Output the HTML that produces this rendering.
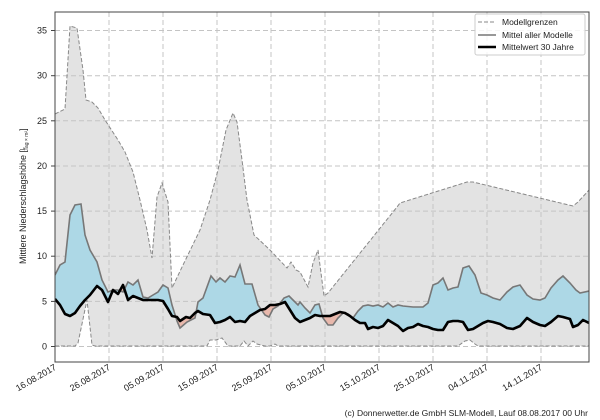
<!DOCTYPE html>
<html><head><meta charset="utf-8"><style>
body{margin:0;background:#fff;}
svg{display:block;font-family:"Liberation Sans","DejaVu Sans",sans-serif;}
</style></head><body>
<svg width="600" height="420" viewBox="0 0 600 420" xmlns="http://www.w3.org/2000/svg">
<defs>
<clipPath id="plot"><rect x="55" y="12" width="534" height="350"/></clipPath>
<clipPath id="above"><polygon points="55,0 589,0 589,323 583,320 578,325 573,327 570,319 563,317 558,316 551,322 545,326 540,325 533,322 527,318 520,326 513,329 507,328 500,324 493,322 488,321 483,323 478,326 473,329 468,330 463,322 458,321 453,321 448,322 443,330 438,330 433,329 428,327 423,326 418,324 413,327 408,328 403,331 398,326 393,323 388,320 383,326 378,328 373,327 368,329 365,323 360,323 355,320 350,316 345,313 340,312 335,314 330,316 325,316 320,316 315,315 310,318 305,320 300,322 295,318 290,310 285,302 280,304 275,305 270,305 265,309 260,310 255,313 250,316 245,322 240,321 235,322 230,317 225,320 220,322 215,323 210,315 203,314 198,311 195,313 190,318 186,317 180,321 177,317 172,316 168,309 163,301 158,300 153,300 148,300 143,300 138,298 133,296 128,300 123,285 118,294 113,290 108,302 102,290 97,286 90,295 85,300 80,306 75,313 70,316 65,314 60,305 55,299"/></clipPath>
<clipPath id="below"><polygon points="55,420 589,420 589,323 583,320 578,325 573,327 570,319 563,317 558,316 551,322 545,326 540,325 533,322 527,318 520,326 513,329 507,328 500,324 493,322 488,321 483,323 478,326 473,329 468,330 463,322 458,321 453,321 448,322 443,330 438,330 433,329 428,327 423,326 418,324 413,327 408,328 403,331 398,326 393,323 388,320 383,326 378,328 373,327 368,329 365,323 360,323 355,320 350,316 345,313 340,312 335,314 330,316 325,316 320,316 315,315 310,318 305,320 300,322 295,318 290,310 285,302 280,304 275,305 270,305 265,309 260,310 255,313 250,316 245,322 240,321 235,322 230,317 225,320 220,322 215,323 210,315 203,314 198,311 195,313 190,318 186,317 180,321 177,317 172,316 168,309 163,301 158,300 153,300 148,300 143,300 138,298 133,296 128,300 123,285 118,294 113,290 108,302 102,290 97,286 90,295 85,300 80,306 75,313 70,316 65,314 60,305 55,299"/></clipPath>
</defs>
<g clip-path="url(#plot)">
<polygon fill="#e3e3e3" points="55,114 65,109 70,26 77,28 83,70 86,100 92,102 98,108 105,120 118,140 125,152 133,172 140,200 147,230 152,258 157,197 162,183 168,202 172,288 183,265 200,230 210,200 218,170 226,130 233,113 237,122 242,160 247,200 254,235 270,250 287,268 291,262 296,270 300,272 308,287 313,263 318,250 324,296 328,293 397,207 400,203 467,182 473,182 573,206 578,202 589,190 589,346 478,346 475,344 470,340 465,341 458,346 278,346 275,344 270,346 265,346 257,344 253,341 248,346 244,341 240,346 228,346 222,338 216,340 210,340 207,346 95,346 92,345 87,300 78,343 75,346 55,346"/>
<g stroke="#c4c4c4" stroke-width="1" stroke-dasharray="5,3" fill="none">
<line x1="55" x2="589" y1="346.5" y2="346.5"/><line x1="55" x2="589" y1="301.4" y2="301.4"/><line x1="55" x2="589" y1="256.2" y2="256.2"/><line x1="55" x2="589" y1="211.1" y2="211.1"/><line x1="55" x2="589" y1="166" y2="166"/><line x1="55" x2="589" y1="120.8" y2="120.8"/><line x1="55" x2="589" y1="75.7" y2="75.7"/><line x1="55" x2="589" y1="30.5" y2="30.5"/>
<line y1="12" y2="362" x1="109" x2="109"/><line y1="12" y2="362" x1="163" x2="163"/><line y1="12" y2="362" x1="217" x2="217"/><line y1="12" y2="362" x1="271" x2="271"/><line y1="12" y2="362" x1="325" x2="325"/><line y1="12" y2="362" x1="379" x2="379"/><line y1="12" y2="362" x1="433" x2="433"/><line y1="12" y2="362" x1="487" x2="487"/><line y1="12" y2="362" x1="541" x2="541"/>
</g>
<polygon clip-path="url(#above)" fill="#add8e6" points="55,275 60,265 65,262 70,215 75,205 81,204 85,235 90,250 97,262 102,280 108,292 113,290 118,290 123,292 128,282 133,285 138,280 143,297 148,298 153,295 158,292 163,285 168,288 172,305 177,321 180,328 187,322 195,318 198,302 203,298 211,276 216,282 220,278 225,282 230,276 235,277 240,265 245,284 252,284 258,305 265,315 269,317 273,309 278,306 284,298 289,296 293,300 298,305 300,302 305,308 310,313 315,305 319,304 323,318 328,325 333,325 338,318 343,313 348,314 353,318 358,311 363,306 368,305 373,306 378,305 383,307 388,303 393,307 398,305 403,306 413,307 423,307 428,303 433,285 438,283 443,278 448,290 453,288 458,287 463,268 469,266 475,275 481,293 487,295 493,298 500,300 507,292 513,287 520,285 527,295 533,299 540,300 545,298 551,288 558,280 563,276 570,283 576,290 580,293 589,291 589,420 55,420"/>
<polygon clip-path="url(#below)" fill="#e8b8ac" points="55,275 60,265 65,262 70,215 75,205 81,204 85,235 90,250 97,262 102,280 108,292 113,290 118,290 123,292 128,282 133,285 138,280 143,297 148,298 153,295 158,292 163,285 168,288 172,305 177,321 180,328 187,322 195,318 198,302 203,298 211,276 216,282 220,278 225,282 230,276 235,277 240,265 245,284 252,284 258,305 265,315 269,317 273,309 278,306 284,298 289,296 293,300 298,305 300,302 305,308 310,313 315,305 319,304 323,318 328,325 333,325 338,318 343,313 348,314 353,318 358,311 363,306 368,305 373,306 378,305 383,307 388,303 393,307 398,305 403,306 413,307 423,307 428,303 433,285 438,283 443,278 448,290 453,288 458,287 463,268 469,266 475,275 481,293 487,295 493,298 500,300 507,292 513,287 520,285 527,295 533,299 540,300 545,298 551,288 558,280 563,276 570,283 576,290 580,293 589,291 589,0 55,0"/>
<g fill="none" stroke="#888" stroke-width="1" stroke-dasharray="4,2">
<polyline points="55,114 65,109 70,26 77,28 83,70 86,100 92,102 98,108 105,120 118,140 125,152 133,172 140,200 147,230 152,258 157,197 162,183 168,202 172,288 183,265 200,230 210,200 218,170 226,130 233,113 237,122 242,160 247,200 254,235 270,250 287,268 291,262 296,270 300,272 308,287 313,263 318,250 324,296 328,293 397,207 400,203 467,182 473,182 573,206 578,202 589,190"/>
<polyline points="55,346 75,346 78,343 87,300 92,345 95,346 207,346 210,340 216,340 222,338 228,346 240,346 244,341 248,346 253,341 257,344 265,346 270,346 275,344 278,346 458,346 465,341 470,340 475,344 478,346 589,346"/>
</g>
<polyline fill="none" stroke="#777" stroke-width="1.6" points="55,275 60,265 65,262 70,215 75,205 81,204 85,235 90,250 97,262 102,280 108,292 113,290 118,290 123,292 128,282 133,285 138,280 143,297 148,298 153,295 158,292 163,285 168,288 172,305 177,321 180,328 187,322 195,318 198,302 203,298 211,276 216,282 220,278 225,282 230,276 235,277 240,265 245,284 252,284 258,305 265,315 269,317 273,309 278,306 284,298 289,296 293,300 298,305 300,302 305,308 310,313 315,305 319,304 323,318 328,325 333,325 338,318 343,313 348,314 353,318 358,311 363,306 368,305 373,306 378,305 383,307 388,303 393,307 398,305 403,306 413,307 423,307 428,303 433,285 438,283 443,278 448,290 453,288 458,287 463,268 469,266 475,275 481,293 487,295 493,298 500,300 507,292 513,287 520,285 527,295 533,299 540,300 545,298 551,288 558,280 563,276 570,283 576,290 580,293 589,291"/>
<polyline fill="none" stroke="#000" stroke-width="2.6" stroke-linejoin="round" points="55,299 60,305 65,314 70,316 75,313 80,306 85,300 90,295 97,286 102,290 108,302 113,290 118,294 123,285 128,300 133,296 138,298 143,300 148,300 153,300 158,300 163,301 168,309 172,316 177,317 180,321 186,317 190,318 195,313 198,311 203,314 210,315 215,323 220,322 225,320 230,317 235,322 240,321 245,322 250,316 255,313 260,310 265,309 270,305 275,305 280,304 285,302 290,310 295,318 300,322 305,320 310,318 315,315 320,316 325,316 330,316 335,314 340,312 345,313 350,316 355,320 360,323 365,323 368,329 373,327 378,328 383,326 388,320 393,323 398,326 403,331 408,328 413,327 418,324 423,326 428,327 433,329 438,330 443,330 448,322 453,321 458,321 463,322 468,330 473,329 478,326 483,323 488,321 493,322 500,324 507,328 513,329 520,326 527,318 533,322 540,325 545,326 551,322 558,316 563,317 570,319 573,327 578,325 583,320 589,323"/>
</g>
<rect x="55" y="12" width="534" height="350" fill="none" stroke="#444" stroke-width="1"/>
<g font-size="9" fill="#222" text-anchor="end">
<text x="47" y="349.5">0</text><text x="47" y="304.4">5</text><text x="47" y="259.2">10</text><text x="47" y="214.1">15</text><text x="47" y="169">20</text><text x="47" y="123.8">25</text><text x="47" y="78.7">30</text><text x="47" y="33.5">35</text>
</g>
<g stroke="#444"><line x1="51" x2="55" y1="346.5" y2="346.5"/><line x1="51" x2="55" y1="301.4" y2="301.4"/><line x1="51" x2="55" y1="256.2" y2="256.2"/><line x1="51" x2="55" y1="211.1" y2="211.1"/><line x1="51" x2="55" y1="166" y2="166"/><line x1="51" x2="55" y1="120.8" y2="120.8"/><line x1="51" x2="55" y1="75.7" y2="75.7"/><line x1="51" x2="55" y1="30.5" y2="30.5"/></g>
<g font-size="9" fill="#222" text-anchor="end">
<text transform="translate(57,369) rotate(-30)">16.08.2017</text>
<text transform="translate(111,369) rotate(-30)">26.08.2017</text>
<text transform="translate(165,369) rotate(-30)">05.09.2017</text>
<text transform="translate(219,369) rotate(-30)">15.09.2017</text>
<text transform="translate(273,369) rotate(-30)">25.09.2017</text>
<text transform="translate(327,369) rotate(-30)">05.10.2017</text>
<text transform="translate(381,369) rotate(-30)">15.10.2017</text>
<text transform="translate(435,369) rotate(-30)">25.10.2017</text>
<text transform="translate(489,369) rotate(-30)">04.11.2017</text>
<text transform="translate(543,369) rotate(-30)">14.11.2017</text>
</g>
<text transform="translate(26,264) rotate(-90)" font-size="9" fill="#222">Mittlere Niederschlagshöhe [<tspan font-size="5" dy="-2">L</tspan><tspan font-size="5" dy="4" dx="-3">Tag × m²</tspan><tspan dy="-2">]</tspan></text>
<rect x="475" y="14" width="110" height="41" fill="#fff" fill-opacity="0.85" stroke="#ccc" rx="2"/>
<line x1="478" x2="496" y1="22" y2="22" stroke="#888" stroke-dasharray="4,2"/>
<line x1="478" x2="496" y1="35" y2="35" stroke="#777" stroke-width="1.6"/>
<line x1="478" x2="496" y1="47" y2="47" stroke="#000" stroke-width="2.6"/>
<g font-size="8.5" fill="#222"><text x="502" y="25">Modellgrenzen</text><text x="502" y="38">Mittel aller Modelle</text><text x="502" y="50">Mittelwert 30 Jahre</text></g>
<text x="588" y="416" font-size="8.5" fill="#222" text-anchor="end">(c) Donnerwetter.de GmbH SLM-Modell, Lauf 08.08.2017 00 Uhr</text>
</svg>
</body></html>
